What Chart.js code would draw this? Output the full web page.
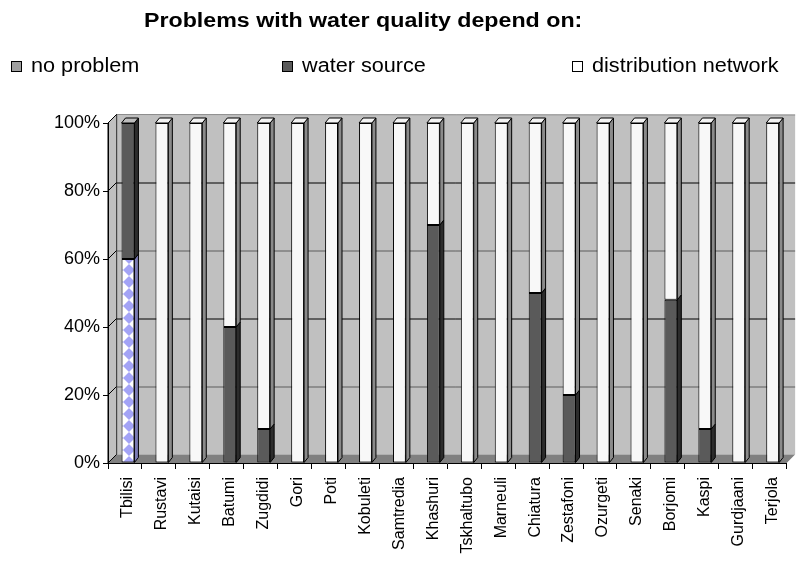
<!DOCTYPE html>
<html>
<head>
<meta charset="utf-8">
<script src="https://cdn.jsdelivr.net/npm/chart.js@4/dist/chart.umd.min.js"></script>
<style>
  html, body { margin: 0; padding: 0; background: #ffffff; }
  #wrap { width: 797px; height: 563px; }
</style>
</head>
<body>
<div id="wrap"><canvas id="c" width="797" height="563"></canvas></div>
<script>
// Towns surveyed
const cities = ['Tbilisi', 'Rustavi', 'Kutaisi', 'Batumi', 'Zugdidi', 'Gori', 'Poti', 'Kobuleti',
  'Samtredia', 'Khashuri', 'Tskhaltubo', 'Marneuli', 'Chiatura', 'Zestafoni', 'Ozurgeti',
  'Senaki', 'Borjomi', 'Kaspi', 'Gurdjaani', 'Terjola'];

// Share of answers per town, in percent
const noProblem           = [60, 0, 0,  0,  0,   0,   0,   0,   0,  0,   0,   0,  0,  0,   0,   0,  0,  0,   0,   0];
const waterSource         = [40, 0, 0, 40, 10,   0,   0,   0,   0, 70,   0,   0, 50, 20,   0,   0, 48, 10,   0,   0];
const distributionNetwork = [ 0,100,100,60, 90, 100, 100, 100, 100, 30, 100, 100, 50, 80, 100, 100, 52, 90, 100, 100];

const seriesNames = ['no problem', 'water source', 'distribution network'];
const titleText = 'Problems with water quality depend on:';

const FONT = "'Liberation Sans', Arial, Helvetica, sans-serif";

// blue/white diamond lattice used for the "no problem" segment
function diamondPattern(blue) {
  const s = 12;
  const t = document.createElement('canvas');
  t.width = s; t.height = s;
  const g = t.getContext('2d');
  g.fillStyle = '#ffffff';
  g.fillRect(0, 0, s, s);
  g.fillStyle = blue;
  g.beginPath();
  g.moveTo(s / 2, 0); g.lineTo(s, s / 2); g.lineTo(s / 2, s); g.lineTo(0, s / 2);
  g.closePath();
  g.fill();
  return g.createPattern(t, 'repeat');
}
const ctx0 = document.getElementById('c').getContext('2d');
const npPattern = diamondPattern('#a3a3f6');

// depth of the walls and of the columns
const WALL = { dx: 8.5, dy: 8.5 };
const COL = { dx: 4, dy: 5, shift: 3 };

const toNull = arr => arr.map(v => (v === 0 ? null : v));

const datasets = [
  { label: seriesNames[0], data: toNull(noProblem), backgroundColor: npPattern,
    swatch: '#a0a0a0', side: '#7c7cb4', cap: '#d8d8f4' },
  { label: seriesNames[1], data: toNull(waterSource), backgroundColor: '#5a5a5a',
    swatch: '#5a5a5a', side: '#2c2c2c', cap: '#bdbdbd' },
  { label: seriesNames[2], data: toNull(distributionNetwork), backgroundColor: '#f8f8f8',
    swatch: '#ffffff', side: '#8a8a8a', cap: '#f4f4f4' }
].map(d => Object.assign(d, {
  borderColor: '#000000', borderWidth: 1, borderSkipped: false,
  barPercentage: 0.38, categoryPercentage: 1, clip: false
}));

// back wall, side wall, floor and the gridlines on the back wall
const framePlugin = {
  id: 'frame3d',
  beforeDraw(chart) {
    const { ctx, chartArea: a } = chart;
    const ys = chart.scales.y;
    const { dx, dy } = WALL;
    ctx.save();
    // back wall
    ctx.fillStyle = '#c0c0c0';
    ctx.fillRect(a.left + dx, a.top - dy, a.right - a.left, a.bottom - a.top);
    // side wall
    ctx.beginPath();
    ctx.moveTo(a.left, a.top);
    ctx.lineTo(a.left + dx, a.top - dy);
    ctx.lineTo(a.left + dx, a.bottom - dy);
    ctx.lineTo(a.left, a.bottom);
    ctx.closePath();
    ctx.fillStyle = '#c0c0c0';
    ctx.fill();
    ctx.strokeStyle = '#000000';
    ctx.lineWidth = 1;
    ctx.stroke();
    // floor
    ctx.beginPath();
    ctx.moveTo(a.left, a.bottom);
    ctx.lineTo(a.left + dx, a.bottom - dy);
    ctx.lineTo(a.right + dx, a.bottom - dy);
    ctx.lineTo(a.right, a.bottom);
    ctx.closePath();
    ctx.fillStyle = '#808080';
    ctx.fill();
    // wall edges
    ctx.strokeStyle = '#8c8c8c';
    ctx.beginPath();
    ctx.moveTo(a.left + dx + 0.5, a.bottom - dy);
    ctx.lineTo(a.left + dx + 0.5, a.top - dy);
    ctx.lineTo(a.right + dx, a.top - dy + 0.5);
    ctx.stroke();
    // gridlines
    ys.ticks.forEach(t => {
      if (t.value <= 0 || t.value >= 100) return;
      const y = Math.round(ys.getPixelForValue(t.value)) + 0.5;
      ctx.strokeStyle = (t.value % 40 === 0) ? '#000000' : '#5c5c5c';
      ctx.beginPath();
      ctx.moveTo(a.left + dx, y - dy);
      ctx.lineTo(a.right + dx, y - dy);
      ctx.stroke();
    });
    ys.ticks.forEach(t => {
      const y = ys.getPixelForValue(t.value);
      ctx.strokeStyle = '#000000';
      ctx.beginPath();
      ctx.moveTo(a.left, y);
      ctx.lineTo(a.left + dx, y - dy);
      ctx.stroke();
    });
    ctx.restore();
  }
};

// right-hand face and top face of every column
const columnPlugin = {
  id: 'columns3d',
  beforeDatasetsDraw(chart) {
    chart.ctx.save();
    chart.ctx.translate(COL.shift, 0);
  },
  afterDatasetsDraw(chart) {
    const ctx = chart.ctx;
    const metas = chart.getSortedVisibleDatasetMetas();
    const { dx, dy } = COL;
    ctx.lineWidth = 1;
    ctx.strokeStyle = '#000000';
    chart.data.labels.forEach((_, j) => {
      let top = null;
      metas.forEach(m => {
        const ds = chart.data.datasets[m.index];
        if (ds.data[j] == null) return;
        const p = m.data[j].getProps(['x', 'y', 'base', 'width'], true);
        const r = p.x + p.width / 2;
        ctx.beginPath();
        ctx.moveTo(r, p.y);
        ctx.lineTo(r + dx, p.y - dy);
        ctx.lineTo(r + dx, p.base - dy);
        ctx.lineTo(r, p.base);
        ctx.closePath();
        ctx.fillStyle = ds.side;
        ctx.fill();
        ctx.stroke();
        top = { p, ds };
      });
      if (top) {
        const { p, ds } = top;
        const l = p.x - p.width / 2, r = p.x + p.width / 2;
        ctx.beginPath();
        ctx.moveTo(l, p.y);
        ctx.lineTo(l + dx, p.y - dy);
        ctx.lineTo(r + dx, p.y - dy);
        ctx.lineTo(r, p.y);
        ctx.closePath();
        ctx.fillStyle = ds.cap;
        ctx.fill();
        ctx.stroke();
      }
    });
    ctx.restore();
  }
};

// title and the one-row legend across the top
function stretchedText(ctx, text, x, y, sx) {
  ctx.save();
  ctx.translate(x, y);
  ctx.scale(sx, 1);
  ctx.fillText(text, 0, 0);
  ctx.restore();
}
const headerPlugin = {
  id: 'header',
  afterDraw(chart) {
    const ctx = chart.ctx;
    ctx.save();
    ctx.fillStyle = '#000000';
    ctx.textBaseline = 'alphabetic';
    ctx.textAlign = 'left';
    ctx.font = 'bold 20px ' + FONT;
    stretchedText(ctx, titleText, 144, 27, 1.16);

    const boxX = [11, 282, 572];
    ctx.font = '19.5px ' + FONT;
    chart.data.datasets.forEach((ds, i) => {
      ctx.fillStyle = ds.swatch;
      ctx.fillRect(boxX[i] + 0.5, 61.5, 10, 10);
      ctx.strokeStyle = '#000000';
      ctx.lineWidth = 1;
      ctx.strokeRect(boxX[i] + 0.5, 61.5, 10, 10);
      ctx.fillStyle = '#000000';
      stretchedText(ctx, ds.label, boxX[i] + 20, 72, 1.11);
    });
    ctx.restore();
  }
};

new Chart(ctx0, {
  type: 'bar',
  data: { labels: cities, datasets },
  options: {
    responsive: false,
    animation: false,
    devicePixelRatio: 1,
    layout: { padding: { top: 123, right: 5, left: 0, bottom: 0 } },
    plugins: { legend: { display: false }, title: { display: false }, tooltip: { enabled: false } },
    scales: {
      x: {
        stacked: true,
        grid: { offset: true, drawOnChartArea: false, color: '#000000', tickLength: 6 },
        border: { color: '#000000' },
        ticks: {
          autoSkip: false, maxRotation: 90, minRotation: 90, labelOffset: 3, padding: 8,
          color: '#000000', font: { family: FONT, size: 16 }
        },
        afterFit(s) { s.height = 100; }
      },
      y: {
        stacked: true, min: 0, max: 100,
        grid: { drawOnChartArea: false, color: '#000000', tickLength: 5 },
        border: { color: '#000000' },
        ticks: {
          stepSize: 20, padding: 3, color: '#000000',
          font: { family: FONT, size: 18 },
          callback: v => v + '%'
        },
        afterFit(s) { s.width = 108; }
      }
    }
  },
  plugins: [framePlugin, columnPlugin, headerPlugin]
});
</script>
</body>
</html>
